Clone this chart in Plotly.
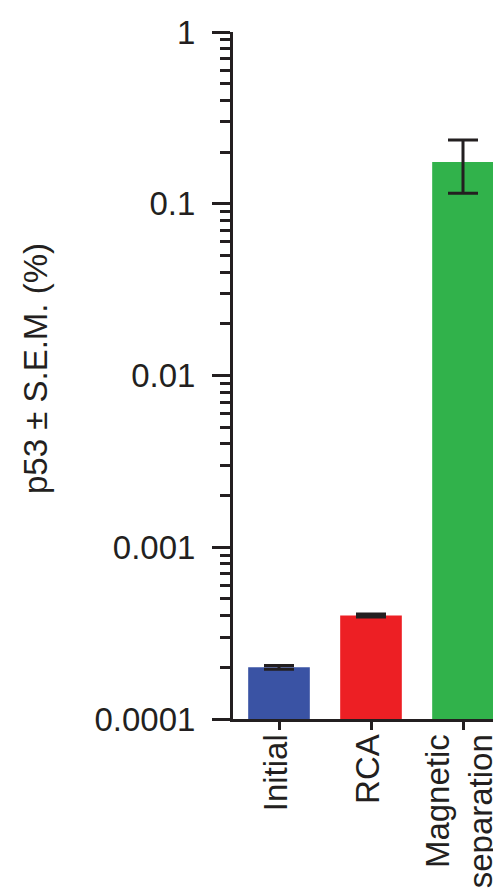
import plotly.graph_objects as go

categories = ["Initial", "RCA", "Magnetic<br>separation"]
values = [0.0002, 0.0004, 0.175]
sem = [0.000005, 0.000008, 0.06]
colors = ["#3a53a4", "#ed1f24", "#31b24b"]
y_tickvals = [0.0001, 0.001, 0.01, 0.1, 1]
y_ticktext = ["0.0001", "0.001", "0.01", "0.1", "1"]
y_title = "p53 ± S.E.M. (%)"

INK = "#231f20"
FONT = "Liberation Sans, Arial, sans-serif"

fig = go.Figure()
fig.add_trace(go.Bar(
    x=categories,
    y=values,
    marker=dict(color=colors, line=dict(width=0)),
    width=0.67,
    error_y=dict(type="data", array=sem, visible=True,
                 thickness=3, width=15, color=INK),
))

fig.update_layout(
    width=501, height=893,
    margin=dict(l=225, r=0, t=24, b=182, autoexpand=False),
    paper_bgcolor="white", plot_bgcolor="white",
    showlegend=False,
    font=dict(family=FONT, size=33, color=INK),
    xaxis=dict(
        automargin=False,
        showline=True, linewidth=3, linecolor=INK,
        ticks="outside", ticklen=8, tickwidth=3, tickcolor=INK,
        tickangle=-90, showgrid=False, zeroline=False,
        ticklabelshift=-3, ticklabelstandoff=-9,
        tickfont=dict(family=FONT, size=33, color=INK),
        range=[-0.5, 2.5],
    ),
    yaxis=dict(
        automargin=False,
        type="log", range=[-4, 0],
        showline=True, linewidth=3, linecolor=INK,
        ticks="outside", ticklen=18, tickwidth=3, tickcolor=INK,
        tickmode="array", tickvals=y_tickvals, ticktext=y_ticktext,
        ticklabelstandoff=10,
        showgrid=False, zeroline=False,
        tickfont=dict(family=FONT, size=33, color=INK),
        minor=dict(ticks="outside", ticklen=10, tickwidth=3, tickcolor=INK,
                   dtick="D1", showgrid=False),
    ),
    annotations=[dict(
        text=y_title, textangle=-90, showarrow=False,
        xref="paper", yref="paper",
        x=-(225 - 27) / 276, y=(711 - 361) / 687,
        xanchor="center", yanchor="middle",
        font=dict(family=FONT, size=33, color=INK),
    )],
)

fig.write_html("out.html")
